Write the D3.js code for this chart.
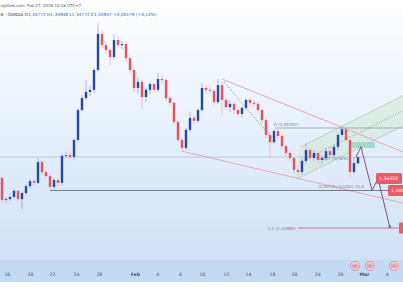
<!DOCTYPE html>
<html>
<head>
<meta charset="utf-8">
<script src="https://cdn.jsdelivr.net/npm/d3@7"></script>
<style>
html, body { margin: 0; padding: 0; background: #fff; overflow: hidden; }
svg text { font-family: "DejaVu Sans", "Liberation Sans", sans-serif; }
</style>
</head>
<body>
<div id="chart"></div>
<script>
// OHLC candles, one per bar
var opens = [1.3437,1.3376,1.3378,1.3384,1.3401,1.3378,1.3395,1.3414,1.3428,1.3423,
	1.3481,1.3453,1.3442,1.3412,1.3431,1.3423,1.3498,1.3500,1.3495,1.3542,
	1.3625,1.3658,1.3675,1.3681,1.3736,1.3836,1.3805,1.3791,1.3772,1.3819,
	1.3805,1.3808,1.3769,1.3736,1.3686,1.3703,1.3661,1.3681,1.3697,1.3681,
	1.3711,1.3708,1.3658,1.3645,1.3592,1.3542,1.3520,1.3570,1.3603,1.3595,
	1.3625,1.3686,1.3681,1.3678,1.3647,1.3694,1.3653,1.3633,1.3642,1.3625,
	1.3614,1.3631,1.3653,1.3645,1.3642,1.3625,1.3597,1.3556,1.3536,1.3567,
	1.3553,1.3525,1.3506,1.3492,1.3459,1.3453,1.3484,1.3514,1.3492,1.3506,
	1.3487,1.3492,1.3511,1.3500,1.3523,1.3556,1.3572,1.3542,1.3453,1.34772];
var highs = [1.3442,1.3384,1.3390,1.3406,1.3403,1.3398,1.3420,1.3434,1.3437,1.3492,
	1.3487,1.3459,1.3448,1.3437,1.3437,1.3503,1.3509,1.3509,1.3547,1.3631,
	1.3667,1.3708,1.3692,1.3742,1.3866,1.3847,1.3814,1.3797,1.3836,1.3830,
	1.3816,1.3814,1.3778,1.3742,1.3714,1.3708,1.3686,1.3703,1.3703,1.3728,
	1.3722,1.3714,1.3664,1.3650,1.3597,1.3550,1.3575,1.3620,1.3609,1.3631,
	1.3700,1.3694,1.3689,1.3683,1.3711,1.3703,1.3658,1.3653,1.3647,1.3631,
	1.3636,1.3658,1.3658,1.3653,1.3647,1.3631,1.3603,1.3564,1.3572,1.3572,
	1.3561,1.3531,1.3511,1.3498,1.3467,1.3489,1.3534,1.3520,1.3514,1.3511,
	1.3500,1.3520,1.3517,1.3531,1.3561,1.35752,1.3574,1.3547,1.3495,1.34948];
var lows = [1.3370,1.3367,1.3373,1.3381,1.3373,1.3351,1.3390,1.3409,1.3417,1.3420,
	1.3445,1.3437,1.3403,1.3406,1.3414,1.3417,1.3492,1.3487,1.3487,1.3536,
	1.3620,1.3653,1.3664,1.3672,1.3730,1.3797,1.3780,1.3750,1.3767,1.3797,
	1.3794,1.3758,1.3725,1.3675,1.3669,1.3625,1.3647,1.3669,1.3672,1.3675,
	1.3697,1.3650,1.3636,1.3584,1.3536,1.3509,1.3514,1.3564,1.3586,1.3589,
	1.3620,1.3672,1.3669,1.3639,1.3642,1.3611,1.3625,1.3620,1.3614,1.3606,
	1.3606,1.3625,1.3636,1.3633,1.3617,1.3589,1.3547,1.3495,1.3531,1.3545,
	1.3517,1.3495,1.3484,1.3448,1.3437,1.3445,1.3478,1.3484,1.3484,1.3478,
	1.3475,1.3484,1.3492,1.3489,1.3514,1.3550,1.3534,1.3439,1.3448,1.34772];
var closes = [1.3376,1.3378,1.3384,1.3401,1.3378,1.3395,1.3414,1.3428,1.3423,1.3481,
	1.3453,1.3442,1.3412,1.3431,1.3423,1.3498,1.3500,1.3495,1.3542,1.3625,
	1.3658,1.3675,1.3681,1.3736,1.3836,1.3805,1.3791,1.3772,1.3819,1.3805,
	1.3808,1.3769,1.3736,1.3686,1.3703,1.3661,1.3681,1.3697,1.3681,1.3711,
	1.3708,1.3658,1.3645,1.3592,1.3542,1.3520,1.3570,1.3603,1.3595,1.3625,
	1.3686,1.3681,1.3678,1.3647,1.3694,1.3653,1.3633,1.3642,1.3625,1.3614,
	1.3631,1.3653,1.3645,1.3642,1.3625,1.3597,1.3556,1.3536,1.3567,1.3553,
	1.3525,1.3506,1.3492,1.3459,1.3453,1.3484,1.3514,1.3492,1.3506,1.3487,
	1.3492,1.3511,1.3500,1.3523,1.3556,1.3572,1.3542,1.3453,1.3478,1.34947];

// time axis: bar position of each date label
var tickIdx = [1.2, 7, 12.5, 18.5, 24.2, 33.2, 38.8, 44.5, 50, 56, 61.5, 67.5, 73, 78.8, 84.5, 90.5, 96.2];
var tickLabels = ["16","20","22","24","28","Feb","4","6","10","12","14","18","20","24","26","Mar","4"];

// drawings: [bar, price] anchors
var downChannelTop = [[55, 1.3711], [100.25, 1.3509]];
var downChannelBottom = [[45, 1.3511], [100.25, 1.3367]];
var upChannelTop = [[74.5, 1.3522], [100.25, 1.3665]];
var upChannelBottom = [[73.75, 1.3434], [100.25, 1.3581]];
var dottedLeg = [[55.5, 1.3703], [67.5, 1.3547]];
var projection = [[88.5, 1.3495], [89.75, 1.3523], [92.5, 1.3402], [94, 1.34352], [97, 1.3298]];
var zoneBox = [[87, 1.3536], [93.25, 1.3520]];
var supportLevel = { from: 12, price: 1.34020 };
var fibLevel = { from: 68.25, price: 1.35752 };
var targetLevel = { from: 74, price: 1.32980 };
var lastPrice = 1.34947;
var priceTags = [1.34352, 1.34020, 1.32980];
var eventIdx = [88.25, 92, 98];

var candles = closes.map(function(c, i) {
	return { i: i, o: opens[i], h: highs[i], l: lows[i], c: c };
});

var width = 403, height = 303;
var plotBottom = 260, axisBottom = 282;

var svg = d3.select("#chart").append("svg")
	.attr("width", width)
	.attr("height", height);

var xScale = d3.scaleLinear().domain([-0.5, 100.25]).range([0, width]);
var yScale = d3.scaleLinear().domain([1.32093, 1.39300]).range([plotBottom, 0]);

var defs = svg.append("defs");
var bg = defs.append("linearGradient").attr("id", "bgGrad")
	.attr("x1", "0%").attr("y1", "0%").attr("x2", "0%").attr("y2", "100%");
bg.append("stop").attr("offset", "0%").style("stop-color", "#ffffff");
bg.append("stop").attr("offset", "100%").style("stop-color", "#cfe1f7");
defs.append("clipPath").attr("id", "plotClip")
	.append("rect").attr("width", width).attr("height", plotBottom);

svg.append("rect").attr("width", width).attr("height", plotBottom).attr("fill", "url(#bgGrad)");
svg.append("rect").attr("y", plotBottom).attr("width", width).attr("height", axisBottom - plotBottom).attr("fill", "#c3daf4");

var plot = svg.append("g").attr("clip-path", "url(#plotClip)");

// green rising channel
var upArea = [upChannelTop[0], upChannelTop[1], upChannelBottom[1], upChannelBottom[0]];
plot.append("path")
	.attr("d", "M" + upArea.map(function(p) { return xScale(p[0]) + "," + yScale(p[1]); }).join("L") + "Z")
	.attr("fill", "#cfe8d4").attr("fill-opacity", 0.55);
var line = d3.line().x(function(p) { return xScale(p[0]); }).y(function(p) { return yScale(p[1]); });
[upChannelTop, upChannelBottom].forEach(function(l) {
	plot.append("path").attr("d", line(l)).attr("fill", "none").attr("stroke", "#a9cfb1").attr("stroke-width", 0.8);
});
var mid = [[(upChannelTop[0][0] + upChannelBottom[0][0]) / 2, (upChannelTop[0][1] + upChannelBottom[0][1]) / 2],
	[100.25, (upChannelTop[1][1] + upChannelBottom[1][1]) / 2]];
plot.append("path").attr("d", line(mid)).attr("fill", "none")
	.attr("stroke", "#7cb58a").attr("stroke-width", 0.8).attr("stroke-dasharray", "1.5,1.5");

// falling channel
[downChannelTop, downChannelBottom].forEach(function(l) {
	plot.append("path").attr("d", line(l)).attr("fill", "none").attr("stroke", "#e8a0a8").attr("stroke-width", 0.9);
});
plot.append("path").attr("d", line(dottedLeg)).attr("fill", "none")
	.attr("stroke", "#5fae7a").attr("stroke-width", 0.9).attr("stroke-dasharray", "1.5,1.8");

// horizontal levels
plot.append("line")
	.attr("x1", 0).attr("x2", width)
	.attr("y1", yScale(lastPrice)).attr("y2", yScale(lastPrice))
	.attr("stroke", "#a7b2c0").attr("stroke-width", 0.6);
plot.append("line")
	.attr("x1", xScale(supportLevel.from)).attr("x2", width)
	.attr("y1", yScale(supportLevel.price)).attr("y2", yScale(supportLevel.price))
	.attr("stroke", "#6b6f78").attr("stroke-width", 0.9);
plot.append("line")
	.attr("x1", xScale(fibLevel.from)).attr("x2", width)
	.attr("y1", yScale(fibLevel.price)).attr("y2", yScale(fibLevel.price))
	.attr("stroke", "#8c9099").attr("stroke-width", 0.7);
plot.append("text")
	.attr("x", xScale(fibLevel.from) - 1).attr("y", yScale(fibLevel.price) - 1.5)
	.attr("font-size", 4.2).attr("fill", "#6f7480")
	.text("0 (1,35752)");
plot.append("line")
	.attr("x1", xScale(targetLevel.from)).attr("x2", width)
	.attr("y1", yScale(targetLevel.price)).attr("y2", yScale(targetLevel.price))
	.attr("stroke", "#c46a86").attr("stroke-width", 0.9);
plot.append("text")
	.attr("x", xScale(targetLevel.from) - 2).attr("y", yScale(targetLevel.price) + 1.5)
	.attr("text-anchor", "end")
	.attr("font-size", 4.2).attr("fill", "#b85a78")
	.text("1.1 (1,32980)");

// zone box
plot.append("rect")
	.attr("x", xScale(zoneBox[0][0])).attr("y", yScale(zoneBox[0][1]))
	.attr("width", xScale(zoneBox[1][0]) - xScale(zoneBox[0][0]))
	.attr("height", yScale(zoneBox[1][1]) - yScale(zoneBox[0][1]))
	.attr("fill", "#8fd6c6").attr("fill-opacity", 0.8);

// measure labels
plot.append("text")
	.attr("x", xScale(78.8)).attr("y", yScale(1.3487))
	.attr("font-size", 3.8).attr("fill", "#6f7480")
	.text("0,8107 (-0,56%)");
plot.append("text")
	.attr("x", xScale(79)).attr("y", yScale(1.34085))
	.attr("font-size", 3.8).attr("fill", "#6f7480")
	.text("-0,00779 (-0,53%) -71,9");

// candles
var bars = plot.append("g").selectAll("g").data(candles).enter().append("g");
bars.append("line")
	.attr("x1", function(d) { return xScale(d.i); })
	.attr("x2", function(d) { return xScale(d.i); })
	.attr("y1", function(d) { return yScale(d.h); })
	.attr("y2", function(d) { return yScale(d.l); })
	.attr("stroke", function(d) { return d.c >= d.o ? "#8f9fcf" : "#f0aab2"; })
	.attr("stroke-width", 0.7);
bars.append("rect")
	.attr("x", function(d) { return xScale(d.i) - 1.2; })
	.attr("width", 2.4)
	.attr("y", function(d) { return yScale(Math.max(d.o, d.c)); })
	.attr("height", function(d) { return Math.max(0.8, Math.abs(yScale(d.o) - yScale(d.c))); })
	.attr("fill", function(d) { return d.c >= d.o ? "#2547a6" : "#e2525f"; });

// projection path
defs.append("marker").attr("id", "arrow")
	.attr("viewBox", "0 0 10 10").attr("refX", 9).attr("refY", 5)
	.attr("markerWidth", 4).attr("markerHeight", 4).attr("orient", "auto")
	.append("path").attr("d", "M1,1 L9,5 L1,9").attr("fill", "none").attr("stroke", "#7a3f7e").attr("stroke-width", 1.6);
plot.append("path")
	.attr("d", line(projection))
	.attr("fill", "none").attr("stroke", "#7a3f7e").attr("stroke-width", 0.9)
	.attr("marker-end", "url(#arrow)");

// price tags on the right
var tagOffsets = [376, 388, 399];
priceTags.forEach(function(p, k) {
	var g = svg.append("g").attr("transform", "translate(" + tagOffsets[k] + "," + yScale(p) + ")");
	g.append("rect").attr("x", 0).attr("y", -5.5).attr("width", 26).attr("height", 11).attr("rx", 1.5).attr("fill", "#ea5a67");
	g.append("text").attr("x", 3).attr("y", 1.6).attr("font-size", 4.6).attr("fill", "#fff")
		.text(d3.format(".5f")(p).replace(".", ","));
});

// time axis
var xAxis = d3.axisBottom(xScale)
	.tickValues(tickIdx)
	.tickFormat(function(d, i) { return tickLabels[i]; })
	.tickSizeInner(0)
	.tickSizeOuter(0)
	.tickPadding(13);
var ax = svg.append("g")
	.attr("transform", "translate(0," + plotBottom + ")")
	.call(xAxis);
ax.select(".domain").remove();
ax.selectAll("text")
	.attr("font-size", 4.6)
	.attr("fill", "#4a4f5a")
	.attr("font-weight", function(d, i) { return (tickLabels[i] == "Feb" || tickLabels[i] == "Mar") ? "bold" : "normal"; });

// event markers
eventIdx.forEach(function(e) {
	var g = svg.append("g").attr("transform", "translate(" + xScale(e) + "," + (plotBottom + 6) + ")");
	g.append("circle").attr("r", 4.6).attr("fill", "#f3c7cf").attr("stroke", "#e07f90").attr("stroke-width", 0.7);
	g.append("rect").attr("x", -2.6).attr("y", -1.6).attr("width", 5.2).attr("height", 3.2).attr("fill", "#c9a0b8");
});

// header (the snapshot is cropped on the left)
svg.append("text").attr("x", 0.5).attr("y", 6.5).attr("font-size", 4).attr("fill", "#555a64")
	.text("ngView.com, Feb 27, 2026 10:26 UTC+7");

var h2 = svg.append("text").attr("x", 0.5).attr("y", 16).attr("font-size", 4.3);
h2.append("tspan").attr("fill", "#3b3f48").text("B · OANDA  ");
[["O", "1,34772"], ["H", "1,34948"], ["L", "1,34772"], ["C", "1,34947"]].forEach(function(v) {
	h2.append("tspan").attr("fill", "#3b3f48").text(v[0]);
	h2.append("tspan").attr("fill", "#2a5bd7").text(v[1] + "  ");
});
h2.append("tspan").attr("fill", "#2a5bd7").text("+0,00179 (+0,13%)");
</script>
</body>
</html>
